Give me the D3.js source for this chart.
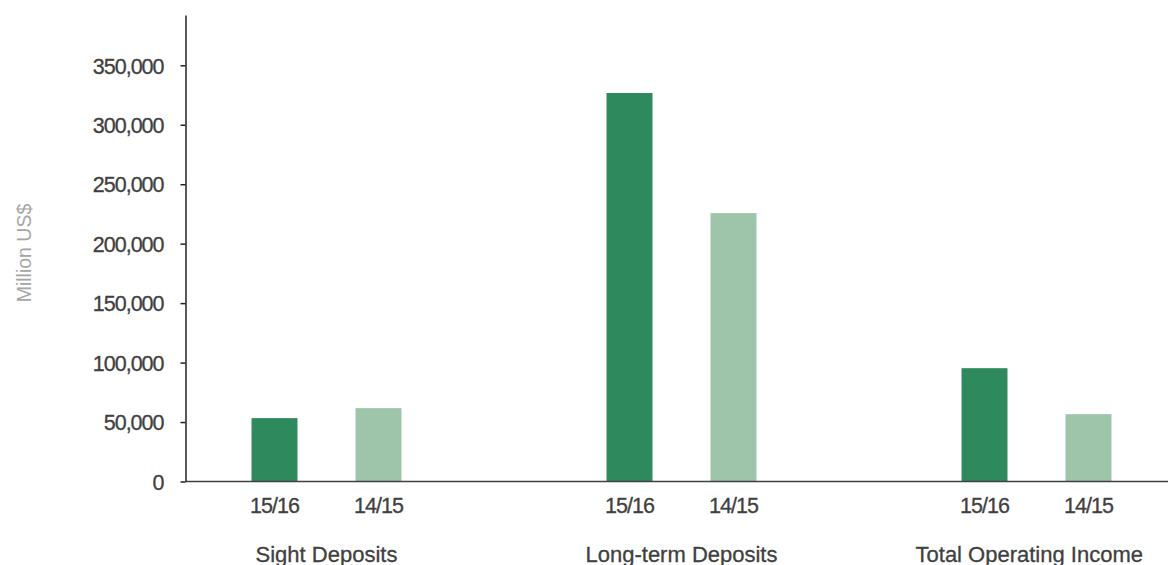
<!DOCTYPE html>
<html>
<head>
<meta charset="utf-8">
<script src="https://cdn.jsdelivr.net/npm/d3@7"></script>
<style>
  html, body { margin: 0; padding: 0; background: #ffffff; }
  svg { display: block; }
  .num { font-family: "Liberation Sans", Arial, sans-serif; font-size: 21.5px; letter-spacing: -1px; fill: #404040; stroke: #404040; stroke-width: 0.3px; }
  .cat { font-family: "Liberation Sans", Arial, sans-serif; font-size: 22px; fill: #404040; stroke: #404040; stroke-width: 0.3px; }
  .unit { font-family: "Liberation Sans", Arial, sans-serif; font-size: 19.5px; fill: #a6a6a6; }
</style>
</head>
<body>
<svg id="chart" width="1168" height="565"></svg>
<script>
// Deposits and income by fiscal year, million US$
const categories = ["Sight Deposits", "Long-term Deposits", "Total Operating Income"];
const periods = ["15/16", "14/15"];
const values1516 = [53300, 326700, 95300];
const values1415 = [61700, 225700, 56600];
const yTicks = [0, 50000, 100000, 150000, 200000, 250000, 300000, 350000];
const yAxisTop = 392300;
const colors = ["#2e8a5d", "#9ec4aa"];

const svg = d3.select("#chart");
const W = 1168, H = 565;
const baseY = 481.5, topY = 15, axisX = 185.5;
const labelRightLimit = W - 25;

const y = d3.scaleLinear().domain([0, yAxisTop]).range([baseY, topY]);

const x0 = d3.scaleBand().domain(categories).range([149, 1214]).paddingInner(0).paddingOuter(0);
const x1 = d3.scaleBand().domain(periods).range([73.5, 281.5]).paddingInner(0.558).paddingOuter(0.279);
const color = d3.scaleOrdinal().domain(periods).range(colors);

const rows = categories.map((c, i) => ({
  category: c,
  bars: [
    { period: periods[0], value: values1516[i] },
    { period: periods[1], value: values1415[i] }
  ]
}));

// bars
const groups = svg.append("g").selectAll("g")
  .data(rows).join("g")
  .attr("transform", d => `translate(${x0(d.category)},0)`);

groups.selectAll("rect")
  .data(d => d.bars).join("rect")
  .attr("x", d => x1(d.period))
  .attr("width", x1.bandwidth())
  .attr("y", d => y(d.value))
  .attr("height", d => y(0) - y(d.value))
  .attr("fill", d => color(d.period));

// period labels under each bar
groups.selectAll("text.num")
  .data(d => d.bars).join("text")
  .attr("class", "num")
  .attr("x", d => x1(d.period) + x1.bandwidth() / 2)
  .attr("y", 513)
  .attr("text-anchor", "middle")
  .text(d => d.period);

// category labels, centred under each group but kept inside the right edge
svg.append("g").selectAll("text")
  .data(categories).join("text")
  .attr("class", "cat")
  .attr("y", 561.5)
  .attr("text-anchor", "middle")
  .text(d => d)
  .attr("x", function (d) {
    const cx = x0(d) + x0.bandwidth() / 2;
    const half = this.getComputedTextLength() / 2;
    return Math.min(cx, labelRightLimit - half);
  });

// baseline
svg.append("line")
  .attr("x1", axisX).attr("x2", W)
  .attr("y1", y(0)).attr("y2", y(0))
  .attr("stroke", "#404040").attr("stroke-width", 1.5);

// y axis
const yAxis = d3.axisLeft(y)
  .tickValues(yTicks)
  .tickSizeInner(5)
  .tickSizeOuter(0)
  .tickPadding(17)
  .tickFormat(d3.format(","));

const gy = svg.append("g")
  .attr("transform", `translate(${axisX},0)`)
  .call(yAxis);
gy.select(".domain").attr("stroke", "#222").attr("stroke-width", 1.5);
gy.selectAll(".tick line").attr("stroke", "#222").attr("stroke-width", 1.5);
gy.selectAll(".tick text")
  .attr("class", "num")
  .attr("font-family", null).attr("font-size", null)
  .attr("fill", null)
  .attr("dy", "0.36em");

// unit label
svg.append("text")
  .attr("class", "unit")
  .attr("transform", `translate(31,253) rotate(-90)`)
  .attr("text-anchor", "middle")
  .text("Million US$");
</script>
</body>
</html>
